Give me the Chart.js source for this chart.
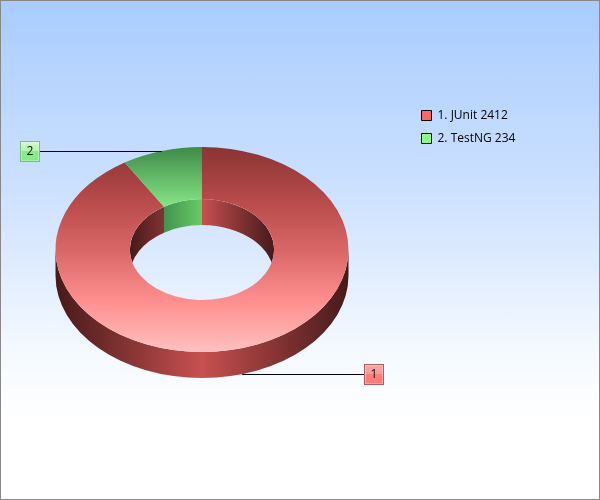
<!DOCTYPE html>
<html>
<head>
<meta charset="utf-8">
<script src="https://cdn.jsdelivr.net/npm/chart.js@4"></script>
<style>
html, body { margin: 0; padding: 0; }
#wrap {
	position: relative; width: 600px; height: 500px; box-sizing: border-box; overflow: hidden;
	border: 1px solid #888;
	background: linear-gradient(to bottom, #a8ccff 0%, #cfe2ff 40%, #f4f9ff 70%, #ffffff 84%, #ffffff 100%);
}
#myChart { position: absolute; left: -1px; top: -1px; }
</style>
</head>
<body>
<div id="wrap"><canvas id="myChart" width="600" height="500"></canvas></div>
<script>
const categories = ['JUnit', 'TestNG'];
const values = [2412, 234];

const tilt = 0.7;    // ellipse height / width
const depth = 26;    // thickness of the ring
const leader = 122;  // callout line length

const legendColors = ['#ff6666', '#88ff88'];
const calloutColors = [
	{ light: '#f2a8a8', mid: '#f59a9a', low: '#ff7c7c', edge: '#b05c5c' },
	{ light: '#d8f7d0', mid: '#b0f2a8', low: '#84ee84', edge: '#78c078' },
];
const wallStops = [
	[[0, '#461a1a'], [0.25, '#863434'], [0.5, '#c85050'], [0.75, '#863434'], [1, '#461a1a']],
	[[0, '#1e4a26'], [0.25, '#459650'], [0.37, '#55b05a'], [0.5, '#66cc66'], [0.75, '#3f8a4a'], [1, '#1e4a26']],
];

function faceFill(c) {
	const chart = c.chart;
	const area = chart.chartArea;
	if (!area) return '#888';
	const g = chart.ctx.createLinearGradient(0, area.top, 0, area.bottom);
	if (c.dataIndex === 0) {
		g.addColorStop(0, '#8a3434');
		g.addColorStop(0.26, '#b84a4a');
		g.addColorStop(0.5, '#d96666');
		g.addColorStop(0.75, '#ff8f8f');
		g.addColorStop(1, '#ffc0c0');
	} else {
		g.addColorStop(0, '#3f8a4a');
		g.addColorStop(0.29, '#85e585');
		g.addColorStop(1, '#85e585');
	}
	return g;
}

function hGradient(ctx, x0, x1, stops) {
	const g = ctx.createLinearGradient(x0, 0, x1, 0);
	stops.forEach(s => g.addColorStop(s[0], s[1]));
	return g;
}

// band between the ellipse at y and the same ellipse shifted down by depth
function band(ctx, x, y, r, a0, a1) {
	ctx.beginPath();
	ctx.ellipse(x, y, r, r * tilt, 0, a0, a1);
	ctx.ellipse(x, y + depth, r, r * tilt, 0, a1, a0, true);
	ctx.closePath();
}

const ring3d = {
	id: 'ring3d',
	afterLayout(chart) {
		// the legend draws clipped to its box, so move all four sides
		const lg = chart.legend;
		const w = lg.width, h = lg.height;
		lg.left = 410.5;
		lg.top = 98.5;
		lg.right = lg.left + 180;
		lg.bottom = lg.top + 80;
		lg.width = w;
		lg.height = h;
	},
	beforeDatasetsDraw(chart) {
		const ctx = chart.ctx;
		const arcs = chart.getDatasetMeta(0).data;
		const { x, y, outerRadius: R, innerRadius: r } = arcs[0];
		ctx.save();
		// outer wall, front half only
		arcs.forEach((a, i) => {
			const from = Math.max(a.startAngle, 0), to = Math.min(a.endAngle, Math.PI);
			if (to <= from) return;
			ctx.fillStyle = hGradient(ctx, x - R, x + R, wallStops[i]);
			band(ctx, x, y, R, from, to);
			ctx.fill();
		});
		// inner wall, back half seen through the hole
		ctx.beginPath();
		ctx.ellipse(x, y, r, r * tilt, 0, 0, Math.PI * 2);
		ctx.clip();
		arcs.forEach((a, i) => {
			[-Math.PI, Math.PI].forEach(start => {
				const from = Math.max(a.startAngle, start), to = Math.min(a.endAngle, start + Math.PI);
				if (to <= from) return;
				ctx.fillStyle = hGradient(ctx, x - r, x + r, wallStops[i]);
				band(ctx, x, y, r, from, to);
				ctx.fill();
			});
		});
		ctx.restore();
		// top face is drawn by the library, squashed
		ctx.save();
		ctx.translate(0, y);
		ctx.scale(1, tilt);
		ctx.translate(0, -y);
	},
	afterDatasetsDraw(chart) {
		const ctx = chart.ctx;
		ctx.restore();
		chart.getDatasetMeta(0).data.forEach((a, i) => {
			const mid = (a.startAngle + a.endAngle) / 2;
			const px = a.x + a.outerRadius * Math.cos(mid);
			let py = a.y + a.outerRadius * tilt * Math.sin(mid);
			if (Math.sin(mid) > 0) py += depth;
			py = Math.round(py) + 0.5;
			const toLeft = Math.cos(mid) < 0;
			const endX = px + (toLeft ? -leader : leader);
			ctx.strokeStyle = '#000';
			ctx.lineWidth = 1;
			ctx.beginPath();
			ctx.moveTo(px, py);
			ctx.lineTo(endX, py);
			ctx.stroke();

			const bx = Math.round(toLeft ? endX - 20 : endX);
			const by = Math.round(py - 10.5);
			const col = calloutColors[i];
			const g = ctx.createLinearGradient(0, by, 0, by + 21);
			g.addColorStop(0, col.light);
			g.addColorStop(0.49, col.mid);
			g.addColorStop(0.5, col.low);
			g.addColorStop(1, col.low);
			ctx.fillStyle = g;
			ctx.fillRect(bx, by, 20, 21);
			// bevel
			ctx.strokeStyle = 'rgba(255,255,255,0.3)';
			ctx.strokeRect(bx + 1.5, by + 1.5, 17, 18);
			ctx.strokeStyle = col.edge;
			ctx.strokeRect(bx + 0.5, by + 0.5, 19, 20);
			ctx.fillStyle = '#111';
			ctx.font = '12px "Open Sans"';
			ctx.textAlign = 'center';
			ctx.textBaseline = 'middle';
			ctx.fillText(String(i + 1), bx + 10, by + 11);
		});
	},
};

new Chart(document.getElementById('myChart'), {
	type: 'doughnut',
	data: {
		labels: categories,
		datasets: [{
			data: values,
			backgroundColor: faceFill,
			borderWidth: 0,
		}],
	},
	options: {
		responsive: false,
		animation: false,
		cutout: '49.2%',
		layout: { padding: { left: 55.5, right: 251.5, top: 103, bottom: 104 } },
		plugins: {
			tooltip: { enabled: false },
			legend: {
				position: 'chartArea',
				align: 'start',
				labels: {
					boxWidth: 10,
					boxHeight: 10,
					padding: 11,
					color: '#222',
					font: { family: '"Open Sans"', size: 12 },
					generateLabels: () => categories.map((name, i) => ({
						text: `${i + 1}. ${name} ${values[i]}`,
						fillStyle: legendColors[i],
						strokeStyle: '#000',
						lineWidth: 1,
						index: i,
					})),
				},
			},
		},
	},
	plugins: [ring3d],
});
</script>
</body>
</html>
